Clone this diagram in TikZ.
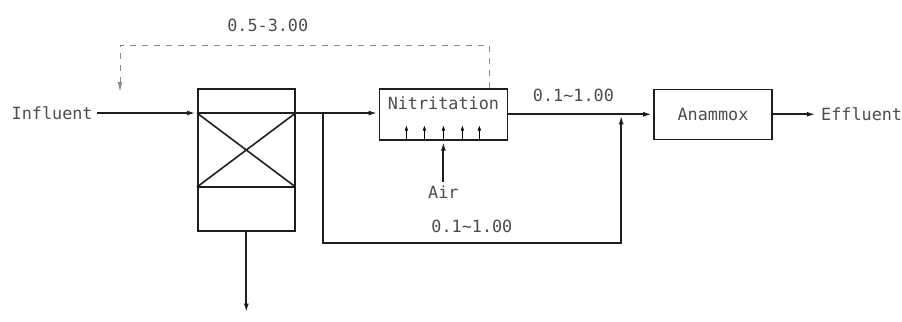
\documentclass[tikz,border=0pt]{standalone}
\usepackage{fontspec}
\setmonofont{DejaVu Sans Mono}
\usepackage{tikz}
\usetikzlibrary{arrows.meta,positioning,calc}
\definecolor{ink}{HTML}{1E1E1E}
\definecolor{dashgray}{HTML}{8C8C8C}

\begin{document}
\begin{tikzpicture}[>={Latex[length=5pt,width=2.4pt]},font=\ttfamily\fontsize{8.4}{10}\selectfont,
  unit/.style={draw=ink,line width=0.8pt,inner sep=0pt,text=black!70},
  flow/.style={draw=ink,line width=1pt},
  recycle/.style={draw=dashgray,line width=0.5pt,dashed},
  tag/.style={text=black!70,inner sep=2pt}]
\useasboundingbox (0,0) rectangle (451pt,-161pt);
\node[unit,minimum width=48.5pt,minimum height=71pt,anchor=north west] (settler) at (98.5pt,-44pt) {};
\coordinate (inlet) at ([yshift=-12.5pt]settler.north west);
\coordinate (outlet) at ([yshift=-12.5pt]settler.north east);
\coordinate (lowL) at ([yshift=-49.5pt]settler.north west);
\coordinate (lowR) at ([yshift=-49.5pt]settler.north east);
\draw[unit] (inlet) -- (lowR) (outlet) -- (lowL) (lowL) -- (lowR);
\node[unit,minimum width=64pt,text height=10.5pt,text depth=15pt,right=41.5pt of settler.north east,anchor=north west] (nitr) {Nitritation};
\node[unit,minimum width=59pt,minimum height=25pt,right=72.5pt of nitr] (anammox) {Anammox};
\node[tag,left=50pt of inlet] (influent) {Influent};
\node[tag,right=22pt of anammox] (effluent) {Effluent};
\node[tag,below=20.5pt of nitr.south] (air) {Air};
\coordinate (tee) at ([xshift=13.5pt]outlet);
\coordinate (join) at ([xshift=-16pt]anammox.west);
\coordinate (sludge) at ([yshift=-41pt]settler.south);
\coordinate (rin) at ([xshift=-38.5pt,yshift=10.5pt]inlet);
% main line
\draw[flow,->] (influent) -- (inlet);
\draw[flow] (inlet) -- (outlet);
\draw[flow,->] (outlet) -- (outlet -| nitr.west);
\draw[flow,->] (nitr) -- node[tag,above=4pt,pos=.45]{0.1\textasciitilde1.00} (anammox);
\draw[flow,->] (anammox) -- (effluent);
% bypass and sludge
\draw[flow,->] (tee) -- ++(0,-65pt) -| node[tag,above=2.5pt,pos=.25]{0.1\textasciitilde1.00} (join);
\draw[flow,->] (settler.south) -- (sludge);
% aeration
\draw[flow,->] (air.north) -- (nitr.south);
\foreach \dx in {-18.5,-9.5,0,9.5,18}
  \draw[line width=0.6pt,-{Latex[length=3pt,width=1.8pt]}] ([xshift=\dx pt]nitr.south) -- ++(0,8pt);
% recycle
\draw[recycle,->] ([xshift=23pt]nitr.north) -- ++(0,21.5pt) -| node[tag,above=4.5pt,pos=.3]{0.5-3.00} (rin);
\end{tikzpicture}
\end{document}
